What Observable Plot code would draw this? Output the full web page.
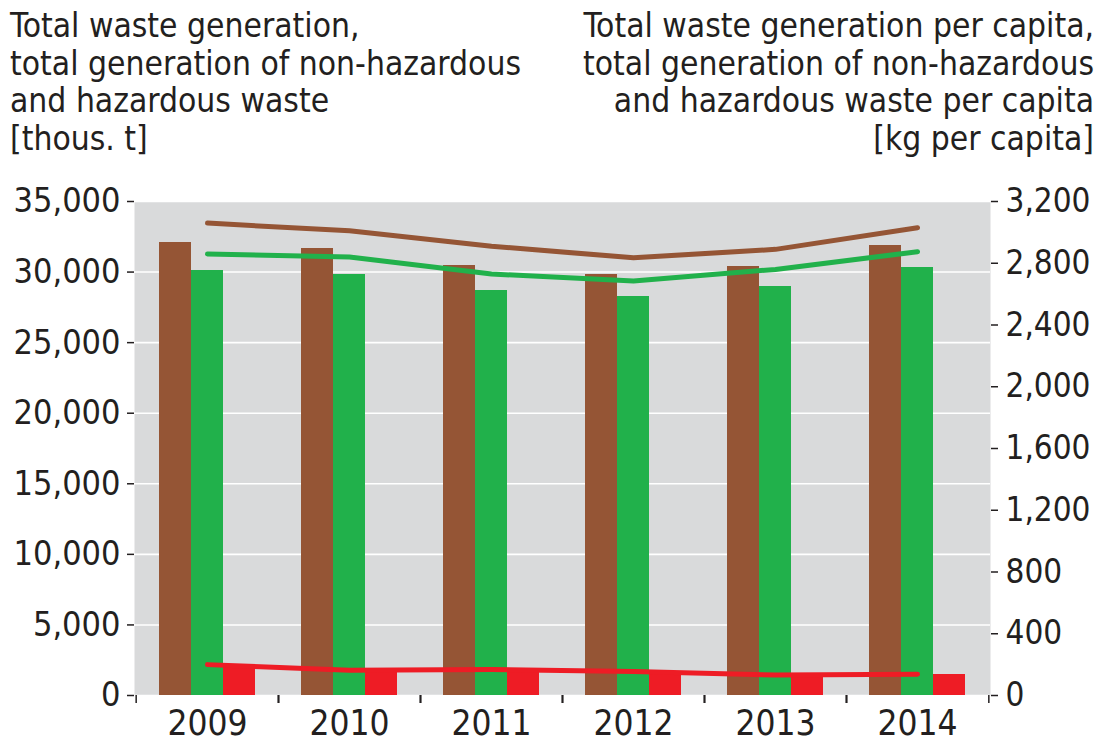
<!DOCTYPE html>
<html>
<head>
<meta charset="utf-8">
<script src="https://cdn.jsdelivr.net/npm/d3@7"></script>
<script src="https://cdn.jsdelivr.net/npm/@observablehq/plot@0.6"></script>
<style>
  html, body { margin: 0; padding: 0; background: #fff; }
  #wrap { position: relative; width: 1108px; height: 749px; overflow: hidden; }
  .ttl { position: absolute; top: 7px; font-family: "Liberation Sans Narrow", "DejaVu Sans Condensed", "Roboto Condensed", Lato, sans-serif;
         font-size: 33.3px; line-height: 37.7px; color: #231f20; white-space: pre; }
  #tl { left: 10px; text-align: left; }
  #tr { right: 14px; text-align: right; }
  #chart { position: absolute; left: 0; top: 180px; }
  #chart svg text { font-family: "Liberation Sans Narrow", "DejaVu Sans Condensed", "Roboto Condensed", Lato, sans-serif; }
</style>
</head>
<body>
<div id="wrap">
  <div class="ttl" id="tl"></div>
  <div class="ttl" id="tr"></div>
  <div id="chart"></div>
</div>
<script>
const titleLeft = ["Total waste generation,", "total generation of non-hazardous", "and hazardous waste", "[thous. t]"];
const titleRight = ["Total waste generation per capita,", "total generation of non-hazardous", "and hazardous waste per capita", "[kg per capita]"];

const years = ["2009", "2010", "2011", "2012", "2013", "2014"];
// thousand tonnes (left axis)
const total = [32100, 31700, 30500, 29800, 30400, 31900];
const nonHazardous = [30100, 29800, 28700, 28300, 29000, 30300];
const hazardous = [1950, 1750, 1800, 1650, 1400, 1500];
// kg per capita (right axis)
const totalPerCapita = [3060, 3010, 2910, 2835, 2890, 3030];
const nonHazardousPerCapita = [2860, 2840, 2730, 2685, 2760, 2875];
const hazardousPerCapita = [200, 163, 168, 155, 133, 137];

const leftTicks = [0, 5000, 10000, 15000, 20000, 25000, 30000, 35000];
const rightTicks = [0, 400, 800, 1200, 1600, 2000, 2400, 2800, 3200];

const colors = { total: "#955535", nonHaz: "#21b14b", haz: "#ee1c25" };

document.getElementById("tl").textContent = titleLeft.join("\n");
document.getElementById("tr").textContent = titleRight.join("\n");

const leftMax = 35000, rightMax = 3200;
const k = leftMax / rightMax; // right-axis value -> left-axis units

const rows = years.map((y, i) => ({
  year: y, total: total[i], nonHaz: nonHazardous[i], haz: hazardous[i],
  totalPc: totalPerCapita[i] * k, nonHazPc: nonHazardousPerCapita[i] * k, hazPc: hazardousPerCapita[i] * k
}));

const W = 1108, H = 569;
const mL = 134, mR = 118, mT = 21, mB = 54;
const band = (W - mL - mR) / years.length;
const barW = 32;
const inset = (band - barW) / 2;
const fmt = d3.format(",");

const chart = Plot.plot({
  width: W, height: H,
  marginLeft: mL, marginRight: mR, marginTop: mT, marginBottom: mB,
  style: { fontSize: "34px", color: "#231f20", background: "transparent", overflow: "visible" },
  x: { type: "band", domain: years, padding: 0, label: null },
  y: { domain: [0, leftMax], label: null },
  marks: [
    Plot.frame({ fill: "#d9dadb", stroke: "none" }),
    Plot.gridY(leftTicks, { stroke: "#ffffff", strokeOpacity: 1, strokeWidth: 1.6 }),
    Plot.barY(rows, { x: "year", y: "total", fill: colors.total, insetLeft: inset, insetRight: inset, dx: -barW, shapeRendering: "crispEdges" }),
    Plot.barY(rows, { x: "year", y: "nonHaz", fill: colors.nonHaz, insetLeft: inset, insetRight: inset, shapeRendering: "crispEdges" }),
    Plot.barY(rows, { x: "year", y: "haz", fill: colors.haz, insetLeft: inset, insetRight: inset, dx: barW, shapeRendering: "crispEdges" }),
    Plot.line(rows, { x: "year", y: "totalPc", stroke: colors.total, strokeWidth: 5, strokeLinecap: "round", strokeLinejoin: "round" }),
    Plot.line(rows, { x: "year", y: "nonHazPc", stroke: colors.nonHaz, strokeWidth: 5, strokeLinecap: "round", strokeLinejoin: "round" }),
    Plot.line(rows, { x: "year", y: "hazPc", stroke: colors.haz, strokeWidth: 5, strokeLinecap: "round", strokeLinejoin: "round" }),
    Plot.axisY(leftTicks, { anchor: "left", tickSize: 7, tickPadding: 7, tickFormat: fmt, line: true, stroke: "#231f20", strokeWidth: 1.5, fill: "#231f20" }),
    Plot.axisY(rightTicks.map(v => v * k), { anchor: "right", tickSize: 7, tickPadding: 8, tickFormat: v => fmt(Math.round(v / k)), line: true, stroke: "#231f20", strokeWidth: 1.5, fill: "#231f20", fontSize: 33 }),
    Plot.axisX({ anchor: "bottom", tickSize: 0, tickPadding: 15, line: true, stroke: "#231f20", strokeWidth: 1.5, fill: "#231f20", fontSize: 35 }),
    Plot.axisX({ anchor: "bottom", tickSize: 8, text: null, dx: -band / 2, stroke: "#231f20", strokeWidth: 1.5 }),
    Plot.axisX({ anchor: "bottom", tickSize: 8, text: null, dx: band / 2, stroke: "#231f20", strokeWidth: 1.5 })
  ]
});
document.getElementById("chart").appendChild(chart);
</script>
</body>
</html>
